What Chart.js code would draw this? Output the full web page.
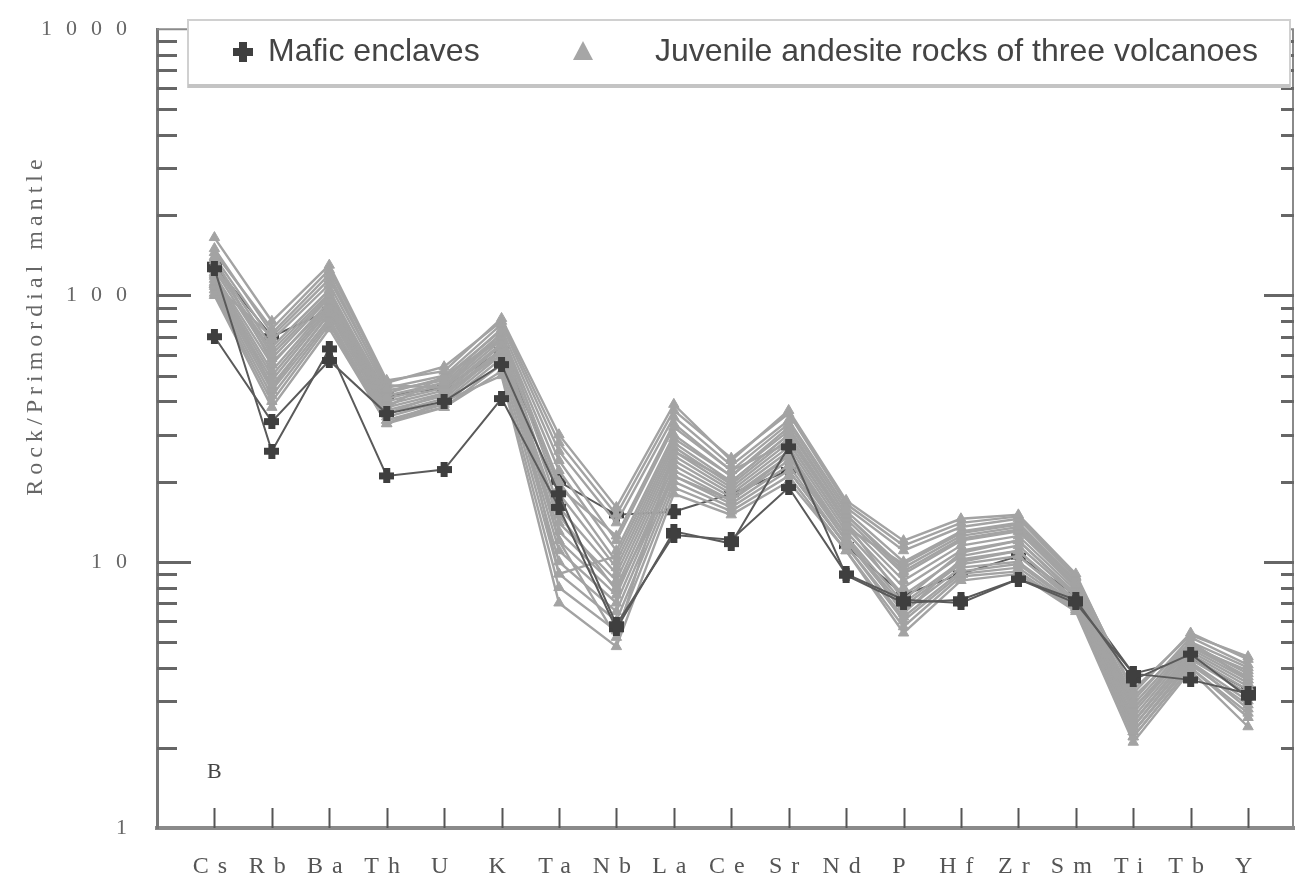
<!DOCTYPE html>
<html>
<head>
<meta charset="utf-8">
<script src="https://cdn.jsdelivr.net/npm/chart.js@4.4.1/dist/chart.umd.min.js"></script>
<style>
  html, body { margin: 0; padding: 0; background: #ffffff; }
  canvas { display: block; }
</style>
</head>
<body>
<canvas id="c" width="1303" height="880"></canvas>
<script>
// ---------- data ----------
const elements = ['Cs','Rb','Ba','Th','U','K','Ta','Nb','La','Ce','Sr','Nd','P','Hf','Zr','Sm','Ti','Tb','Y'];
const yTickValues = [1, 10, 100, 1000];
const yTickLabels = ['1', '10', '100', '1000'];
const legendLabels = ['Mafic enclaves', 'Juvenile andesite rocks of three volcanoes'];
const axisTitle = 'Rock/Primordial mantle';
const panelLabel = 'B';

// Mafic enclaves
const mafic1 = [70, 33.6, 57, 36, 40, 55, 18, 5.8, 12.6, 12.1, 19, 9, 7.2, 7, 8.6, 7, 3.8, 3.6, 3.2];
const mafic2 = [126, 26, 63, 21, 22.2, 41, 16, 5.6, 13, 11.7, 27, 8.9, 7, 7.2, 8.6, 7.2, 3.6, 4.5, 3.1];
const mafic3 = [130, 70, 88, 42, 45, 62, 20, 15, 15.4, 18, 22, 11.5, 7.5, 9, 10.5, 7.5, 3.8, 4.3, 3.3];

// Juvenile andesite rocks
const andesite01 = [165, 80, 130, 48, 52, 82, 30, 16, 39, 24, 37, 17, 12, 14.5, 15, 9, 3.2, 5.4, 4.3];
const andesite02 = [150, 72, 120, 45, 50, 78, 26, 14, 35, 23, 34, 16, 11, 13.5, 14.5, 8.7, 3.0, 5.2, 4.1];
const andesite03 = [140, 68, 110, 44, 48, 75, 24, 12, 32, 22, 33, 15.5, 10, 13, 14, 8.5, 2.9, 5.0, 4.0];
const andesite04 = [135, 64, 105, 42, 47, 72, 22, 11, 30, 21, 31, 15, 9.5, 12.5, 13.5, 8.2, 2.8, 4.9, 3.8];
const andesite05 = [130, 60, 100, 41, 46, 70, 20, 10, 28, 20, 30, 14.5, 9, 12, 13, 8.0, 2.7, 4.8, 3.7];
const andesite06 = [125, 58, 98, 40, 45, 68, 18, 9.5, 27, 19.5, 29, 14, 8.5, 11.5, 12.5, 7.8, 2.6, 4.7, 3.6];
const andesite07 = [120, 55, 95, 39, 44, 66, 16, 9, 26, 19, 28, 13.5, 8, 11, 12, 7.6, 2.5, 4.6, 3.5];
const andesite08 = [118, 52, 92, 38, 43, 65, 14, 8.5, 25, 18.5, 27, 13, 7.5, 10.5, 11.5, 7.4, 2.5, 4.5, 3.4];
const andesite09 = [115, 50, 90, 37, 42, 63, 13, 8, 24, 18, 26, 12.5, 7, 10, 11, 7.2, 2.4, 4.4, 3.3];
const andesite10 = [112, 48, 88, 36, 41, 62, 12, 7.5, 23, 17.5, 25, 12, 6.8, 9.8, 10.5, 7.0, 2.4, 4.3, 3.2];
const andesite11 = [110, 46, 85, 35, 40, 60, 11, 7, 22, 17, 24, 12, 6.5, 9.5, 10, 6.9, 2.3, 4.2, 3.0];
const andesite12 = [108, 44, 82, 34, 39, 58, 10, 6.5, 21, 16.5, 23, 11.5, 6.2, 9.2, 9.8, 6.8, 2.3, 4.1, 2.9];
const andesite13 = [105, 42, 80, 34, 38, 55, 9, 6, 20, 16, 22, 11.5, 6, 9, 9.5, 6.7, 2.2, 4.0, 2.7];
const andesite14 = [102, 40, 78, 33, 38, 52, 8, 5.5, 19, 15.5, 21, 11, 5.7, 8.8, 9.2, 6.6, 2.2, 4.0, 2.6];
const andesite15 = [100, 38, 75, 33, 40, 50, 7, 4.8, 18, 15, 20, 11, 5.4, 8.5, 9, 6.5, 2.1, 3.9, 2.4];
const andesite16 = [145, 75, 125, 47, 54, 80, 28, 15, 37, 24.5, 36, 16.5, 11.5, 14, 14.8, 8.8, 3.3, 5.3, 4.4];
const andesite17 = [128, 62, 102, 43, 49, 74, 9, 10.5, 29, 21, 32, 15, 9.2, 12.2, 13.2, 8.1, 2.8, 4.8, 3.9];
const andesite18 = [122, 45, 86, 38, 50, 68, 12, 5.2, 26, 20, 30, 14, 7.2, 10.8, 12, 7.5, 2.5, 4.5, 3.1];
const andesite19 = [110, 70, 115, 46, 45, 72, 19, 12.5, 33, 22, 28, 13.5, 9.8, 12.8, 13.8, 8.4, 3.1, 5.0, 3.6];
const andesite20 = [138, 56, 92, 36, 43, 60, 15, 7.8, 21, 17, 25, 12.5, 6.4, 10.2, 11, 7, 2.3, 4.2, 2.8];

const maficSeries = [mafic1, mafic2, mafic3];
const maficOrder = [1, 1, 3];
const andesiteSeries = [andesite01, andesite02, andesite03, andesite04, andesite05, andesite06, andesite07,
  andesite08, andesite09, andesite10, andesite11, andesite12, andesite13, andesite14, andesite15,
  andesite16, andesite17, andesite18, andesite19, andesite20];

// ---------- styles ----------
const MAFIC_COLOR = '#3f3f3f';
const MAFIC_LINE = '#5a5a5a';
const ANDE_COLOR = '#a3a3a3';

function plusCanvas(size, arm, color) {
  const c = document.createElement('canvas');
  c.width = size; c.height = size;
  const g = c.getContext('2d');
  g.fillStyle = color;
  const m = (size - arm) / 2;
  g.fillRect(m, 0, arm, size);
  g.fillRect(0, m, size, arm);
  return c;
}
const plusMarker = plusCanvas(15, 7, MAFIC_COLOR);

const toPoints = arr => arr.map((v, i) => ({ x: i, y: v }));

const datasets = [];
andesiteSeries.forEach((s, k) => datasets.push({
  label: legendLabels[1] + ' ' + (k + 1),
  data: toPoints(s),
  borderColor: ANDE_COLOR,
  backgroundColor: ANDE_COLOR,
  borderWidth: 2.4,
  pointStyle: 'triangle',
  pointRadius: 6,
  pointBorderWidth: 1,
  tension: 0,
  order: 2
}));
maficSeries.forEach((s, k) => datasets.push({
  label: legendLabels[0] + ' ' + (k + 1),
  data: toPoints(s),
  borderColor: MAFIC_LINE,
  backgroundColor: MAFIC_COLOR,
  borderWidth: 2,
  pointStyle: plusMarker,
  pointRadius: 7,
  tension: 0,
  order: maficOrder[k]
}));

// ---------- decoration plugin ----------
const deco = {
  id: 'deco',
  beforeDraw(chart) {
    const spacing = { x: '9px', y: '14px' };
    for (const id of ['x', 'y']) {
      const s = chart.scales[id];
      if (s && !s.__ls) {
        const orig = s.drawLabels;
        s.drawLabels = function (a) {
          const c = this.ctx;
          c.save();
          c.letterSpacing = spacing[id];
          orig.call(this, a);
          c.restore();
        };
        s.__ls = true;
      }
    }
  },
  afterDraw(chart) {
    const ctx = chart.ctx;
    const ca = chart.chartArea;
    const y = chart.scales.y;
    const x = chart.scales.x;
    ctx.save();
    ctx.letterSpacing = '0px';

    // right axis + top border
    ctx.strokeStyle = '#8a8a8a';
    ctx.lineWidth = 2;
    ctx.beginPath();
    ctx.moveTo(ca.right - 1, ca.top);
    ctx.lineTo(ca.right - 1, ca.bottom);
    ctx.stroke();
    ctx.beginPath();
    ctx.moveTo(ca.left, ca.top);
    ctx.lineTo(ca.right, ca.top);
    ctx.stroke();

    // log ticks (inward)
    for (let d = 1; d < 1000; d *= 10) {
      for (let m = 1; m <= 10; m++) {
        const v = d * m;
        if (v === 1 || v === 1000) continue;
        const py = Math.round(y.getPixelForValue(v)) + 0.5;
        const major = (m === 10);
        ctx.strokeStyle = '#666';
        ctx.lineWidth = 3;
        ctx.beginPath();
        ctx.moveTo(ca.left, py);
        ctx.lineTo(ca.left + (major ? 34 : 20), py);
        ctx.stroke();
        ctx.beginPath();
        ctx.moveTo(ca.right, py);
        ctx.lineTo(ca.right - (major ? 30 : 13), py);
        ctx.stroke();
      }
    }
    // category ticks (inward)
    ctx.strokeStyle = '#555';
    ctx.lineWidth = 2;
    elements.forEach((_, i) => {
      const px = Math.round(x.getPixelForValue(i)) + 0.5;
      ctx.beginPath();
      ctx.moveTo(px, ca.bottom);
      ctx.lineTo(px, ca.bottom - 20);
      ctx.stroke();
    });

    // panel label
    ctx.fillStyle = '#444';
    ctx.font = '22px "Liberation Serif"';
    ctx.textAlign = 'center';
    ctx.textBaseline = 'middle';
    ctx.fillText(panelLabel, x.getPixelForValue(0), 772);

    // y-axis title
    ctx.save();
    ctx.translate(36, 325);
    ctx.rotate(-Math.PI / 2);
    ctx.fillStyle = '#666';
    ctx.font = '24px "Liberation Serif"';
    ctx.letterSpacing = '5px';
    ctx.textAlign = 'center';
    ctx.textBaseline = 'middle';
    ctx.fillText(axisTitle, 0, 0);
    ctx.restore();

    // legend box
    const L = 188, R = 1290, T = 20, B = 87;
    ctx.fillStyle = '#ffffff';
    ctx.fillRect(L, T, R - L, B - T);
    ctx.strokeStyle = '#d0d0d0';
    ctx.lineWidth = 2;
    ctx.strokeRect(L, T, R - L, B - T);
    ctx.strokeStyle = '#c4c4c4';
    ctx.lineWidth = 4;
    ctx.beginPath();
    ctx.moveTo(L, B - 1);
    ctx.lineTo(R, B - 1);
    ctx.stroke();

    const ly = 52;
    // mafic marker
    ctx.fillStyle = MAFIC_COLOR;
    ctx.fillRect(243 - 4, ly - 10, 8, 20);
    ctx.fillRect(243 - 10, ly - 4, 20, 8);
    // triangle marker
    ctx.fillStyle = '#a6a6a6';
    ctx.beginPath();
    ctx.moveTo(583, ly - 11);
    ctx.lineTo(593, ly + 8);
    ctx.lineTo(573, ly + 8);
    ctx.closePath();
    ctx.fill();

    ctx.fillStyle = '#444';
    ctx.font = '32px "Liberation Sans"';
    ctx.textAlign = 'left';
    ctx.textBaseline = 'middle';
    ctx.fillText(legendLabels[0], 268, ly);
    ctx.fillText(legendLabels[1], 655, ly);
    ctx.restore();
  }
};

new Chart(document.getElementById('c'), {
  type: 'line',
  data: { datasets },
  options: {
    responsive: false,
    animation: false,
    devicePixelRatio: 1,
    layout: { padding: { left: 0, right: 3, top: 24, bottom: 0 } },
    plugins: { legend: { display: false }, tooltip: { enabled: false } },
    scales: {
      x: {
        type: 'linear',
        min: -1,
        max: 18.8,
        afterBuildTicks: s => { s.ticks = elements.map((_, i) => ({ value: i })); },
        afterFit: s => { s.height = 52; },
        grid: { display: true, drawOnChartArea: false, drawTicks: false },
        border: { display: true, color: '#8a8a8a', width: 4 },
        ticks: {
          callback: v => elements[v],
          autoSkip: false,
          maxRotation: 0,
          padding: 24,
          color: '#555',
          font: { family: 'Liberation Serif', size: 24 }
        }
      },
      y: {
        type: 'logarithmic',
        min: 1,
        max: 1000,
        afterBuildTicks: s => { s.ticks = yTickValues.map(v => ({ value: v })); },
        afterFit: s => { s.width = 157; },
        grid: { display: true, drawOnChartArea: false, drawTicks: false },
        border: { display: true, color: '#777', width: 3 },
        ticks: {
          callback: v => yTickLabels[yTickValues.indexOf(v)],
          autoSkip: false,
          padding: 16,
          color: '#666',
          font: { family: 'Liberation Serif', size: 22 }
        }
      }
    }
  },
  plugins: [deco]
});
</script>
</body>
</html>
